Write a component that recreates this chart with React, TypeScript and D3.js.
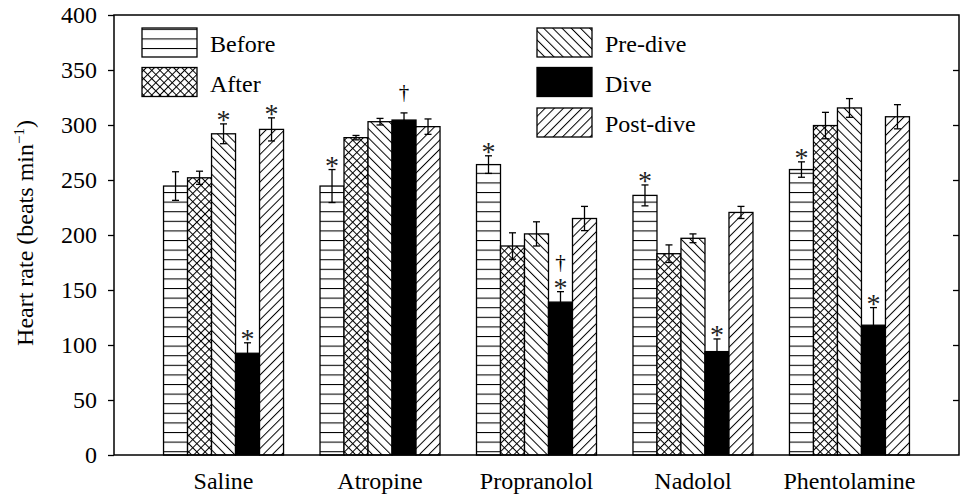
import React, { useRef, useEffect } from 'react';
import * as d3 from 'd3';

const categories = ['Saline', 'Atropine', 'Propranolol', 'Nadolol', 'Phentolamine'];
const seriesNames = ['Before', 'After', 'Pre-dive', 'Dive', 'Post-dive'];

const before = [244.5, 244.5, 264, 236, 259.5];
const beforeErr = [13, 15, 8, 9.5, 7];
const after = [252, 288.5, 190, 183, 299.5];
const afterErr = [6, 2, 12, 8, 12];
const preDive = [292, 303, 201, 197, 315.5];
const preDiveErr = [9, 3, 11, 4, 8.5];
const dive = [92.5, 304.5, 139, 94, 118];
const diveErr = [9.5, 6.5, 9.5, 11.5, 16];
const postDive = [296, 298.5, 215, 220.5, 307.5];
const postDiveErr = [10.5, 7, 11, 5.5, 11];

// significance marks, listed bottom-up
const beforeMarks = [[], ['*'], ['*'], ['*'], ['*']];
const afterMarks = [[], [], [], [], []];
const preDiveMarks = [['*'], [], [], [], []];
const diveMarks = [['*'], ['†'], ['*', '†'], ['*'], ['*']];
const postDiveMarks = [['*'], [], [], [], []];

const yTicks = [0, 50, 100, 150, 200, 250, 300, 350, 400];

const series = [
  { name: 'Before', values: before, err: beforeErr, marks: beforeMarks, fill: 'url(#pat-h)' },
  { name: 'After', values: after, err: afterErr, marks: afterMarks, fill: 'url(#pat-x)' },
  { name: 'Pre-dive', values: preDive, err: preDiveErr, marks: preDiveMarks, fill: 'url(#pat-bs)' },
  { name: 'Dive', values: dive, err: diveErr, marks: diveMarks, fill: '#000' },
  { name: 'Post-dive', values: postDive, err: postDiveErr, marks: postDiveMarks, fill: 'url(#pat-fs)' },
];

const FONT = '"Liberation Serif", "Times New Roman", serif';

const App = () => {
  const svgRef = useRef(null);

  useEffect(() => {
    document.body.style.margin = '0';
    const svg = d3.select(svgRef.current);
    svg.selectAll('*').remove();

    const left = 114, right = 959, top = 15, bottom = 455;

    const x = d3.scaleLinear().domain([-0.7, categories.length - 0.3]).range([left, right]);
    const inner = d3.scaleBand().domain(seriesNames).range([-60, 60]);
    const y = d3.scaleLinear().domain([0, 400]).range([bottom, top]);

    const defs = svg.append('defs');
    const h = defs.append('pattern').attr('id', 'pat-h').attr('patternUnits', 'userSpaceOnUse')
      .attr('width', 10).attr('height', 9.6);
    h.append('rect').attr('width', 10).attr('height', 9.6).attr('fill', '#fff');
    h.append('line').attr('x1', 0).attr('x2', 10).attr('y1', 0.5).attr('y2', 0.5)
      .attr('stroke', '#000').attr('stroke-width', 1.1);

    const lines = (id, angle, spacing, cross) => {
      const p = defs.append('pattern').attr('id', id).attr('patternUnits', 'userSpaceOnUse')
        .attr('width', spacing).attr('height', spacing)
        .attr('patternTransform', `rotate(${angle})`);
      p.append('rect').attr('width', spacing).attr('height', spacing).attr('fill', '#fff');
      p.append('line').attr('x1', 0.5).attr('x2', 0.5).attr('y1', 0).attr('y2', spacing)
        .attr('stroke', '#000').attr('stroke-width', 1);
      if (cross) {
        p.append('line').attr('y1', 0.5).attr('y2', 0.5).attr('x1', 0).attr('x2', spacing)
          .attr('stroke', '#000').attr('stroke-width', 1);
      }
    };
    lines('pat-x', 45, 5.8, true);
    lines('pat-bs', -45, 6.5, false);
    lines('pat-fs', 45, 6.5, false);

    // bars
    series.forEach(s => {
      const g = svg.append('g');
      categories.forEach((c, i) => {
        const bx = x(i) + inner(s.name);
        const bw = inner.bandwidth();
        g.append('rect')
          .attr('x', bx).attr('y', y(s.values[i]))
          .attr('width', bw).attr('height', y(0) - y(s.values[i]))
          .attr('fill', s.fill).attr('stroke', '#000').attr('stroke-width', 1.3);
        const cx = bx + bw / 2;
        const hi = y(s.values[i] + s.err[i]);
        const lo = y(s.values[i] - s.err[i]);
        g.append('line').attr('x1', cx).attr('x2', cx).attr('y1', hi).attr('y2', lo)
          .attr('stroke', '#000').attr('stroke-width', 1.3);
        [hi, lo].forEach(v => {
          g.append('line').attr('x1', cx - 3.5).attr('x2', cx + 3.5).attr('y1', v).attr('y2', v)
            .attr('stroke', '#000').attr('stroke-width', 1.3);
        });
        // marks, stacked upward from the error bar
        let cursor = hi;
        s.marks[i].forEach(m => {
          if (m === '*') {
            g.append('text').attr('x', cx).attr('y', cursor + 5)
              .attr('text-anchor', 'middle').attr('font-family', FONT).attr('font-size', 28)
              .attr('fill', '#222').text('*');
            cursor -= 14;
          } else {
            const gap = cursor === hi ? 10 : 5;
            g.append('text').attr('x', cx).attr('y', cursor - gap - 4)
              .attr('text-anchor', 'middle').attr('font-family', FONT).attr('font-size', 21)
              .attr('fill', '#000').text('†');
            cursor -= gap + 16;
          }
        });
      });
    });

    // frame
    svg.append('rect').attr('x', left).attr('y', top).attr('width', right - left).attr('height', bottom - top)
      .attr('fill', 'none').attr('stroke', '#000').attr('stroke-width', 1.5);

    const yAxis = svg.append('g').attr('transform', `translate(${left},0)`)
      .call(d3.axisLeft(y).tickValues(yTicks).tickSize(6).tickPadding(11));
    yAxis.select('.domain').remove();
    yAxis.selectAll('line').attr('stroke-width', 1.3);
    yAxis.selectAll('text').attr('font-family', FONT).attr('font-size', 24).attr('fill', '#000');

    const yRight = svg.append('g').attr('transform', `translate(${right},0)`)
      .call(d3.axisLeft(y).tickValues(yTicks.slice(1, -1)).tickSize(6).tickFormat(() => ''));
    yRight.select('.domain').remove();
    yRight.selectAll('line').attr('stroke-width', 1.3);

    // category labels
    svg.append('g').selectAll('text').data(categories).enter().append('text')
      .attr('x', (d, i) => x(i)).attr('y', 489)
      .attr('text-anchor', 'middle').attr('font-family', FONT).attr('font-size', 24)
      .text(d => d);

    // y title
    const title = svg.append('text')
      .attr('transform', `translate(33,${(top + bottom) / 2 - 2}) rotate(-90)`)
      .attr('text-anchor', 'middle').attr('font-family', FONT).attr('font-size', 24);
    title.append('tspan').text('Heart rate (beats min');
    title.append('tspan').attr('font-size', 15).attr('dy', -9).text('−1');
    title.append('tspan').attr('dy', 9).text(')');

    // legend
    const legendPos = [
      [142, 28], [142, 67.5], [537, 28], [537, 67.5], [537, 108],
    ];
    series.forEach((s, i) => {
      const [lx, ly] = legendPos[i];
      svg.append('rect').attr('x', lx).attr('y', ly).attr('width', 55).attr('height', 29)
        .attr('fill', s.fill).attr('stroke', '#000').attr('stroke-width', 1.3);
      svg.append('text').attr('x', lx + 68).attr('y', ly + 24)
        .attr('font-family', FONT).attr('font-size', 24).text(s.name);
    });
  }, []);

  return <svg ref={svgRef} width={967} height={494} style={{ display: 'block', background: '#fff' }}></svg>;
};

export default App;
